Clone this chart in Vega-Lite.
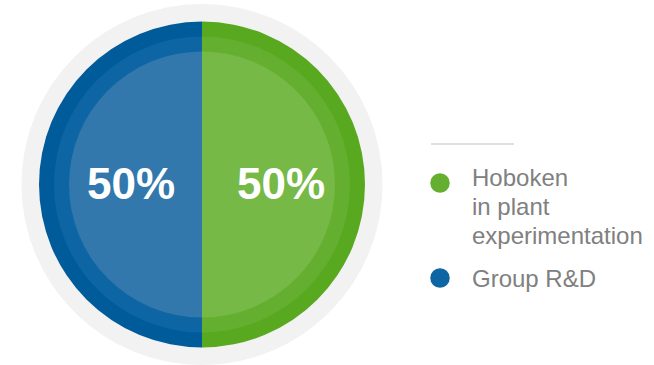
{
  "$schema": "https://vega.github.io/schema/vega-lite/v6.json",
  "width": 404,
  "height": 369,
  "padding": 0,
  "background": "#ffffff",
  "config": {"view": {"stroke": null}},
  "data": {
    "values": [
      {"category": "Hoboken in plant experimentation", "value": 50},
      {"category": "Group R&D", "value": 50}
    ]
  },
  "encoding": {
    "theta": {"field": "value", "type": "quantitative", "stack": true},
    "order": {"field": "category", "sort": "descending"}
  },
  "layer": [
    {
      "mark": {"type": "arc", "outerRadius": 180, "fill": "#f2f2f2", "stroke": "#f2f2f2", "strokeWidth": 1}
    },
    {
      "mark": {"type": "arc", "outerRadius": 163},
      "encoding": {
        "color": {"condition": {"test": "datum.category === 'Group R&D'", "value": "#005b9b"}, "value": "#58a91f"}
      }
    },
    {
      "mark": {"type": "arc", "outerRadius": 148},
      "encoding": {
        "color": {
          "field": "category",
          "type": "nominal",
          "scale": {"domain": ["Hoboken in plant experimentation", "Group R&D"], "range": ["#64af2f", "#0e65a4"]},
          "legend": {
            "title": null,
            "orient": "none",
            "legendX": 401,
            "legendY": 144,
            "padding": 27,
            "strokeColor": "#e0e0e0",
            "symbolType": "circle",
            "symbolSize": 380,
            "symbolStrokeWidth": 0,
            "symbolOpacity": 1,
            "labelFont": "Liberation Sans",
            "labelFontSize": 24,
            "labelColor": "#808080",
            "labelOffset": 20,
            "labelLimit": 0,
            "labelBaseline": "top",
            "rowPadding": 17,
            "labelExpr": "datum.label === 'Hoboken in plant experimentation' ? ['Hoboken', 'in plant', 'experimentation'] : datum.label",
            "encode": {
              "legend": {"update": {"strokeDash": {"value": [0, 30, 83, 100000]}, "strokeWidth": {"value": 2}}},
              "labels": {"update": {"dy": {"signal": "datum.value === 'Group R&D' ? -10 : -16"}, "lineHeight": {"value": 29}}}
            }
          }
        }
      }
    },
    {
      "mark": {"type": "arc", "outerRadius": 133},
      "encoding": {
        "color": {"condition": {"test": "datum.category === 'Group R&D'", "value": "#3278ad"}, "value": "#76b946"}
      }
    },
    {
      "mark": {"type": "text", "radius": 75, "dx": 4, "dy": 1, "font": "Liberation Sans", "fontWeight": "bold", "fontSize": 44, "fill": "#ffffff", "baseline": "middle", "align": "center"},
      "encoding": {
        "text": {"value": "50%"}
      }
    }
  ]
}
